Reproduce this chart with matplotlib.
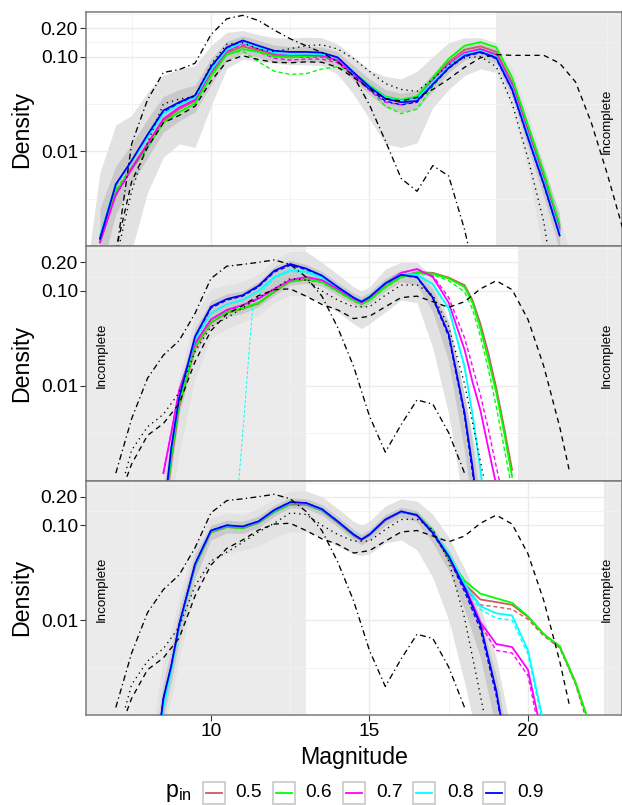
import numpy as np
import matplotlib
matplotlib.use("Agg")
import matplotlib.pyplot as plt
from matplotlib.patches import Rectangle
from matplotlib.lines import Line2D
from matplotlib.ticker import NullFormatter

plt.rcParams['font.family'] = ['Liberation Sans', 'DejaVu Sans']
plt.rcParams['mathtext.fontset'] = 'custom'
plt.rcParams['mathtext.rm'] = 'Liberation Sans'
plt.rcParams['mathtext.it'] = 'Liberation Sans'

nan = np.nan

# ---------------- data ----------------
PIN_LEVELS = ['0.5', '0.6', '0.7', '0.8', '0.9']
PIN_COLORS = ['#CD5C5C', '#00FF00', '#FF00FF', '#00FFFF', '#0000FF']
X_TICKS = [10, 15, 20]
Y_TICKS = [0.01, 0.10, 0.20]
Y_TICK_LABELS = ['0.01', '0.10', '0.20']

# Panel 1
P1_MAG = [6.5, 7.0, 7.5, 8.0, 8.5, 9.0, 9.5, 10.0, 10.5, 11.0, 11.5, 12.0, 12.5, 13.0, 13.5,
          14.0, 14.5, 15.0, 15.5, 16.0, 16.5, 17.0, 17.5, 18.0, 18.5, 19.0, 19.5, 20.0, 20.5, 21.0]
P1_RED = [0.0011, 0.0036, 0.0068, 0.012, 0.021, 0.028, 0.034, 0.066, 0.11, 0.128, 0.117, 0.104, 0.1, 0.102, 0.102,
          0.093, 0.067, 0.049, 0.037, 0.034, 0.037, 0.057, 0.088, 0.118, 0.128, 0.112, 0.053, 0.017, 0.0055, 0.0016]
P1_GREEN = [0.0011, 0.0038, 0.0065, 0.011, 0.02, 0.026, 0.032, 0.062, 0.105, 0.12, 0.112, 0.1, 0.098, 0.1, 0.1,
            0.092, 0.068, 0.05, 0.038, 0.035, 0.038, 0.06, 0.095, 0.13, 0.142, 0.125, 0.06, 0.019, 0.006, 0.0017]
P1_MAGENTA = [0.0011, 0.0035, 0.0065, 0.012, 0.022, 0.029, 0.035, 0.07, 0.115, 0.138, 0.122, 0.108, 0.104, 0.104, 0.102,
              0.092, 0.066, 0.048, 0.036, 0.034, 0.036, 0.055, 0.083, 0.11, 0.12, 0.105, 0.05, 0.016, 0.005, 0.0015]
P1_CYAN = [0.0013, 0.0045, 0.0078, 0.014, 0.025, 0.031, 0.037, 0.072, 0.118, 0.14, 0.125, 0.11, 0.106, 0.107, 0.106,
           0.096, 0.068, 0.049, 0.037, 0.034, 0.036, 0.054, 0.08, 0.106, 0.115, 0.1, 0.047, 0.015, 0.0048, 0.0014]
P1_BLUE = [0.0012, 0.0045, 0.008, 0.015, 0.027, 0.033, 0.039, 0.078, 0.125, 0.148, 0.13, 0.115, 0.112, 0.112, 0.11,
           0.098, 0.068, 0.048, 0.036, 0.033, 0.034, 0.051, 0.076, 0.102, 0.112, 0.097, 0.045, 0.014, 0.0045, 0.0013]
P1_GREEN_DASH = [nan, 0.004, 0.0068, 0.012, 0.021, 0.026, 0.032, 0.062, 0.105, 0.115, 0.088, 0.07, 0.065, 0.066, 0.074,
                 0.078, 0.065, 0.045, 0.03, 0.025, 0.028, 0.048, 0.08, 0.108, 0.12, 0.105, 0.05, 0.016, 0.005, 0.0015]
P1_MAGENTA_DASH = [nan, 0.0034, 0.0066, 0.012, 0.022, 0.029, 0.035, 0.069, 0.112, 0.132, 0.112, 0.096, 0.092, 0.094, 0.094,
                   0.086, 0.062, 0.044, 0.033, 0.031, 0.034, 0.053, 0.082, 0.11, 0.118, 0.102, 0.048, 0.015, 0.0048, 0.0014]
P1_BLUE_DASH = [0.0012, 0.0044, 0.0078, 0.0145, 0.026, 0.032, 0.038, 0.075, 0.12, 0.142, 0.12, 0.102, 0.098, 0.099, 0.099,
                0.09, 0.064, 0.045, 0.034, 0.031, 0.033, 0.05, 0.075, 0.1, 0.11, 0.095, 0.044, 0.0138, 0.0044, 0.0013]
P1_CORE_HI = [0.0025, 0.007, 0.012, 0.022, 0.038, 0.045, 0.05, 0.095, 0.145, 0.165, 0.148, 0.132, 0.128, 0.128, 0.126,
              0.112, 0.08, 0.058, 0.045, 0.041, 0.044, 0.066, 0.098, 0.128, 0.138, 0.122, 0.06, 0.02, 0.0068, 0.0022]
P1_CORE_LO = [0.0005, 0.0022, 0.0045, 0.0085, 0.016, 0.021, 0.026, 0.05, 0.09, 0.108, 0.098, 0.088, 0.086, 0.088, 0.088,
              0.08, 0.056, 0.04, 0.029, 0.026, 0.028, 0.043, 0.068, 0.092, 0.1, 0.085, 0.037, 0.011, 0.0033, 0.0009]
P1_GREY_MAG = [6.2, 6.5, 7.0, 7.5, 8.0, 8.5, 9.0, 9.5, 10.0, 10.5, 11.0, 11.5, 12.0, 12.5, 13.0, 13.5,
               14.0, 14.5, 15.0, 15.5, 16.0, 16.5, 17.0, 17.5, 18.0, 18.5, 19.0, 19.5, 20.0, 20.5, 21.0, 21.25]
P1_GREY_HI = [0.0011, 0.006, 0.019, 0.024, 0.042, 0.064, 0.074, 0.08, 0.13, 0.18, 0.188, 0.17, 0.158, 0.156, 0.16, 0.158,
              0.135, 0.1, 0.072, 0.062, 0.058, 0.07, 0.1, 0.14, 0.158, 0.158, 0.14, 0.075, 0.025, 0.0075, 0.002, 0.00105]
P1_GREY_LO = [0.0002, 0.0002, 0.0003, 0.0009, 0.0037, 0.0087, 0.012, 0.011, 0.03, 0.075, 0.094, 0.088, 0.085, 0.082, 0.082, 0.08,
              0.065, 0.04, 0.022, 0.012, 0.011, 0.0123, 0.029, 0.045, 0.063, 0.074, 0.068, 0.029, 0.0065, 0.0008, 0.0002, 0.0002]
P1_REF_DASH_MAG = [7.0, 7.5, 8.0, 8.5, 9.0, 9.5, 10.0, 10.5, 11.0, 11.5, 12.0, 12.5, 13.0, 13.5, 14.0, 14.5, 15.0,
                   15.5, 16.0, 16.5, 17.0, 17.5, 18.0, 18.5, 19.0, 19.5, 20.0, 20.5, 21.0, 21.5, 22.0, 22.5, 23.0]
P1_REF_DASH = [0.0009, 0.0048, 0.011, 0.02, 0.024, 0.03, 0.055, 0.089, 0.102, 0.093, 0.087, 0.086, 0.088, 0.087, 0.077, 0.06, 0.046,
               0.036, 0.034, 0.037, 0.045, 0.058, 0.077, 0.097, 0.105, 0.103, 0.103, 0.103, 0.085, 0.054, 0.02, 0.0058, 0.0015]
P1_REF_DOT_MAG = [7.1, 7.5, 8.0, 8.5, 9.0, 9.5, 10.0, 10.5, 11.0, 11.5, 12.0, 12.5, 13.0, 13.5, 14.0,
                  14.5, 15.0, 15.5, 16.0, 16.5, 17.0, 17.5, 18.0, 18.5, 19.0, 19.5, 20.0, 20.5, 20.6]
P1_REF_DOT = [0.001, 0.0038, 0.0123, 0.0317, 0.0356, 0.038, 0.082, 0.135, 0.14, 0.12, 0.113, 0.121, 0.13, 0.133, 0.12,
              0.095, 0.07, 0.052, 0.045, 0.043, 0.058, 0.082, 0.097, 0.1, 0.078, 0.032, 0.0085, 0.0018, 0.0011]
P1_REF_DASHDOT_MAG = [7.0, 7.5, 8.0, 8.5, 9.0, 9.5, 10.0, 10.5, 11.0, 11.5, 12.0, 12.5, 13.0, 13.5, 14.0,
                      14.5, 15.0, 15.5, 16.0, 16.5, 17.0, 17.5, 18.0, 18.15]
P1_REF_DASHDOT = [0.0008, 0.012, 0.035, 0.068, 0.073, 0.085, 0.17, 0.25, 0.272, 0.24, 0.19, 0.154, 0.13, 0.11, 0.088,
                  0.062, 0.031, 0.013, 0.0052, 0.0038, 0.0071, 0.0055, 0.0015, 0.0009]

# Panel 2
P2_MAG = [8.5, 8.75, 9.0, 9.5, 10.0, 10.5, 11.0, 11.5, 12.0, 12.5, 13.0, 13.5, 14.0, 14.5, 14.75,
          15.0, 15.5, 16.0, 16.5, 17.0, 17.5, 18.0, 18.25, 18.5, 18.75, 19.0, 19.25, 19.5]
P2_RED = [0.0003, 0.0016, 0.006, 0.025, 0.046, 0.059, 0.065, 0.074, 0.098, 0.126, 0.132, 0.125, 0.1, 0.08, 0.073,
          0.081, 0.112, 0.142, 0.157, 0.155, 0.138, 0.115, 0.08, 0.045, 0.022, 0.0095, 0.0036, 0.0013]
P2_GREEN = [0.0003, 0.0018, 0.0065, 0.026, 0.047, 0.06, 0.066, 0.075, 0.1, 0.128, 0.133, 0.125, 0.1, 0.08, 0.073,
            0.08, 0.11, 0.14, 0.155, 0.152, 0.135, 0.11, 0.075, 0.04, 0.019, 0.0085, 0.0032, 0.0011]
P2_MAGENTA = [0.0012, 0.0032, 0.009, 0.028, 0.05, 0.063, 0.071, 0.083, 0.105, 0.13, 0.14, 0.13, 0.105, 0.083, 0.076,
              0.085, 0.12, 0.155, 0.17, 0.14, 0.075, 0.024, 0.011, 0.0055, 0.0022, 0.0009, nan, nan]
P2_CYAN = [0.0004, 0.0022, 0.0075, 0.031, 0.058, 0.072, 0.08, 0.1, 0.14, 0.165, 0.16, 0.14, 0.11, 0.085, 0.078,
           0.087, 0.12, 0.15, 0.148, 0.118, 0.066, 0.016, 0.005, 0.0013, 0.0003, nan, nan, nan]
P2_BLUE = [0.0004, 0.0022, 0.0075, 0.033, 0.068, 0.082, 0.09, 0.113, 0.163, 0.192, 0.172, 0.145, 0.11, 0.085, 0.077,
           0.086, 0.12, 0.148, 0.14, 0.085, 0.035, 0.0052, 0.0014, 0.0003, nan, nan, nan, nan]
P2_GREEN_DASH = [0.0003, 0.0018, 0.0065, 0.026, 0.046, 0.058, 0.064, 0.073, 0.097, 0.124, 0.13, 0.122, 0.098, 0.078, 0.072,
                 0.079, 0.108, 0.138, 0.152, 0.148, 0.128, 0.098, 0.064, 0.033, 0.015, 0.006, 0.0022, 0.0008]
P2_MAGENTA_DASH = [0.0012, 0.0032, 0.009, 0.028, 0.05, 0.062, 0.07, 0.082, 0.104, 0.128, 0.138, 0.128, 0.104, 0.082, 0.075,
                   0.085, 0.12, 0.155, 0.17, 0.145, 0.085, 0.032, 0.016, 0.008, 0.0035, 0.0014, 0.0006, nan]
P2_BLUE_DASH = [0.0004, 0.0022, 0.0075, 0.032, 0.066, 0.08, 0.088, 0.11, 0.158, 0.186, 0.168, 0.142, 0.108, 0.084, 0.076,
                0.085, 0.118, 0.146, 0.138, 0.083, 0.033, 0.0048, 0.0012, 0.0003, nan, nan, nan, nan]
P2_CYAN_DASH_MAG = [10.88, 11.07, 11.23, 11.32, 11.5, 12.0, 12.5, 13.0, 13.5, 14.0, 14.5, 14.75, 15.0, 15.5,
                    16.0, 16.5, 17.0, 17.5, 18.0, 18.25, 18.5, 18.6]
P2_CYAN_DASH = [0.001, 0.006, 0.03, 0.065, 0.092, 0.135, 0.16, 0.155, 0.135, 0.107, 0.083, 0.076, 0.085, 0.118,
                0.148, 0.146, 0.115, 0.063, 0.015, 0.005, 0.0013, 0.0008]
P2_CORE_HI = [0.0008, 0.003, 0.01, 0.04, 0.078, 0.093, 0.1, 0.125, 0.18, 0.21, 0.19, 0.16, 0.122, 0.095, 0.087,
              0.097, 0.135, 0.165, 0.16, 0.105, 0.045, 0.008, 0.0025, 0.0006, nan, nan, nan, nan]
P2_CORE_LO = [0.0003, 0.0013, 0.005, 0.022, 0.042, 0.053, 0.058, 0.068, 0.09, 0.115, 0.12, 0.112, 0.09, 0.072, 0.066,
              0.073, 0.1, 0.125, 0.115, 0.06, 0.018, 0.002, 0.0005, 0.0002, nan, nan, nan, nan]
P2_GREY_HI = [0.0013, 0.004, 0.012, 0.055, 0.105, 0.115, 0.125, 0.15, 0.21, 0.26, 0.26, 0.2, 0.15, 0.11, 0.1,
              0.11, 0.17, 0.2, 0.2, 0.14, 0.048, 0.0075, 0.003, 0.0011, 0.0004, nan, nan, nan]
P2_GREY_LO = [0.0002, 0.0006, 0.002, 0.012, 0.032, 0.04, 0.047, 0.055, 0.075, 0.09, 0.088, 0.075, 0.06, 0.045, 0.04,
              0.045, 0.06, 0.08, 0.075, 0.025, 0.005, 0.0005, 0.0002, 0.0002, 0.0002, nan, nan, nan]

# Reference curves shared by panels 2 and 3
REF_DASH_MAG = [7.35, 7.5, 8.0, 8.5, 9.0, 9.5, 10.0, 10.5, 11.0, 11.5, 12.0, 12.5, 13.0, 13.5, 14.0,
                14.5, 15.0, 15.5, 16.0, 16.5, 17.0, 17.5, 18.0, 18.5, 19.0, 19.5, 20.0, 20.5, 21.0, 21.3]
REF_DASH = [0.0011, 0.0015, 0.003, 0.004, 0.0065, 0.018, 0.038, 0.057, 0.07, 0.089, 0.103, 0.105, 0.088, 0.072, 0.063,
            0.051, 0.054, 0.068, 0.085, 0.088, 0.077, 0.067, 0.077, 0.105, 0.128, 0.103, 0.05, 0.016, 0.0037, 0.0013]
REF_DOT_MAG = [7.3, 7.5, 8.0, 8.5, 9.0, 9.5, 10.0, 10.5, 11.0, 11.5, 12.0, 12.5, 13.0, 13.5, 14.0,
               14.5, 15.0, 15.5, 16.0, 16.5, 17.0, 17.5, 18.0, 18.5, 18.6]
REF_DOT = [0.0012, 0.0021, 0.0037, 0.005, 0.0085, 0.023, 0.042, 0.052, 0.066, 0.085, 0.105, 0.135, 0.13, 0.1, 0.08,
           0.068, 0.068, 0.09, 0.115, 0.116, 0.09, 0.042, 0.0105, 0.0016, 0.0011]
REF_DASHDOT_MAG = [7.0, 7.5, 8.0, 8.5, 9.0, 9.5, 10.0, 10.5, 11.0, 11.5, 12.0, 12.5, 13.0, 13.5, 14.0,
                   14.5, 15.0, 15.5, 16.0, 16.5, 17.0, 17.5, 18.0]
REF_DASHDOT = [0.0012, 0.0045, 0.012, 0.021, 0.03, 0.058, 0.135, 0.182, 0.19, 0.2, 0.212, 0.19, 0.14, 0.088, 0.041,
               0.016, 0.0048, 0.002, 0.0039, 0.0071, 0.0064, 0.0032, 0.0012]

# Panel 3
P3_MAG = [8.25, 8.5, 8.75, 9.0, 9.5, 10.0, 10.5, 11.0, 11.5, 12.0, 12.5, 13.0, 13.5, 14.0, 14.5, 14.75,
          15.0, 15.5, 16.0, 16.5, 17.0, 17.5, 18.0, 18.5, 19.0, 19.5, 20.0, 20.5, 21.0, 21.5, 22.0]
P3_RED = [0.0003, 0.0014, 0.0032, 0.0088, 0.037, 0.084, 0.096, 0.093, 0.106, 0.138, 0.166, 0.165, 0.143, 0.107, 0.078, 0.07,
          0.079, 0.113, 0.138, 0.129, 0.087, 0.044, 0.024, 0.0165, 0.0155, 0.0145, 0.0108, 0.0071, 0.0053, 0.0022, 0.0007]
P3_GREEN = [0.0003, 0.0014, 0.0032, 0.0088, 0.037, 0.084, 0.096, 0.093, 0.106, 0.138, 0.166, 0.165, 0.143, 0.107, 0.078, 0.07,
            0.079, 0.113, 0.138, 0.13, 0.088, 0.045, 0.026, 0.019, 0.017, 0.0152, 0.011, 0.0071, 0.0053, 0.0022, 0.0007]
P3_MAGENTA = [0.0003, 0.0014, 0.0032, 0.0088, 0.038, 0.086, 0.098, 0.095, 0.108, 0.142, 0.17, 0.168, 0.145, 0.108, 0.079, 0.07,
              0.079, 0.113, 0.138, 0.127, 0.084, 0.048, 0.023, 0.0095, 0.0056, 0.0052, 0.003, 0.0005, nan, nan, nan]
P3_CYAN = [0.0002, 0.0012, 0.003, 0.0085, 0.038, 0.087, 0.099, 0.096, 0.109, 0.143, 0.172, 0.17, 0.146, 0.109, 0.08, 0.071,
           0.08, 0.114, 0.139, 0.128, 0.085, 0.05, 0.024, 0.014, 0.0118, 0.0112, 0.0048, 0.0008, nan, nan, nan]
P3_BLUE = [0.0003, 0.0015, 0.0033, 0.009, 0.039, 0.088, 0.1, 0.097, 0.11, 0.145, 0.175, 0.172, 0.148, 0.11, 0.08, 0.071,
           0.08, 0.115, 0.14, 0.128, 0.083, 0.047, 0.022, 0.0089, 0.0018, 0.0002, nan, nan, nan, nan, nan]
P3_RED_DASH = [0.0003, 0.0014, 0.0032, 0.0088, 0.037, 0.084, 0.096, 0.093, 0.106, 0.138, 0.166, 0.165, 0.143, 0.107, 0.078, 0.07,
               0.079, 0.113, 0.138, 0.129, 0.086, 0.043, 0.022, 0.0145, 0.0138, 0.013, 0.0102, 0.0068, 0.0051, 0.0021, 0.0006]
P3_MAGENTA_DASH = [0.0003, 0.0014, 0.0032, 0.0088, 0.038, 0.086, 0.098, 0.095, 0.108, 0.142, 0.17, 0.168, 0.145, 0.108, 0.079, 0.07,
                   0.079, 0.113, 0.138, 0.126, 0.082, 0.046, 0.021, 0.009, 0.0048, 0.0045, 0.0026, 0.0004, nan, nan, nan]
P3_CYAN_DASH = [0.0002, 0.0012, 0.003, 0.0085, 0.038, 0.087, 0.099, 0.096, 0.109, 0.143, 0.172, 0.17, 0.146, 0.109, 0.08, 0.071,
                0.08, 0.114, 0.139, 0.127, 0.084, 0.049, 0.023, 0.013, 0.0105, 0.01, 0.0044, 0.0007, nan, nan, nan]
P3_BLUE_DASH = [0.0003, 0.0015, 0.0033, 0.009, 0.039, 0.088, 0.1, 0.097, 0.11, 0.145, 0.175, 0.172, 0.148, 0.11, 0.08, 0.071,
                0.08, 0.115, 0.14, 0.127, 0.081, 0.045, 0.02, 0.008, 0.0016, 0.0002, nan, nan, nan, nan, nan]
P3_CORE_HI = [0.0006, 0.0022, 0.005, 0.013, 0.05, 0.1, 0.113, 0.11, 0.125, 0.163, 0.195, 0.19, 0.165, 0.123, 0.09, 0.08,
              0.09, 0.13, 0.155, 0.142, 0.095, 0.055, 0.026, 0.0105, 0.0026, 0.0003, nan, nan, nan, nan, nan]
P3_CORE_LO = [0.0002, 0.0009, 0.0022, 0.006, 0.028, 0.07, 0.083, 0.082, 0.094, 0.125, 0.152, 0.15, 0.128, 0.096, 0.07, 0.062,
              0.07, 0.1, 0.122, 0.108, 0.065, 0.033, 0.013, 0.004, 0.0007, 0.0002, nan, nan, nan, nan, nan]
P3_GREY_HI = [0.0011, 0.004, 0.008, 0.018, 0.065, 0.12, 0.135, 0.13, 0.15, 0.19, 0.23, 0.23, 0.2, 0.15, 0.11, 0.1,
              0.11, 0.16, 0.19, 0.18, 0.13, 0.075, 0.035, 0.014, 0.004, 0.0006, nan, nan, nan, nan, nan]
P3_GREY_LO = [0.0002, 0.0007, 0.0015, 0.004, 0.02, 0.04, 0.05, 0.055, 0.06, 0.075, 0.085, 0.085, 0.075, 0.06, 0.05, 0.048,
              0.05, 0.065, 0.07, 0.055, 0.028, 0.01, 0.0022, 0.0004, 0.0002, 0.0002, nan, nan, nan, nan, nan]

INCOMPLETE_SPANS = [[(19.0, 24.0)], [(5.0, 13.0), (19.7, 24.0)], [(5.0, 13.0), (22.4, 24.0)]]
INCOMPLETE_LABEL_X = [[22.5], [6.55, 22.5], [6.55, 22.5]]
INCOMPLETE_LABEL_Y = 0.021

# ---------------- assemble panels ----------------
panels = [
    dict(mag=P1_MAG,
         solid=[P1_RED, P1_GREEN, P1_MAGENTA, P1_CYAN, P1_BLUE],
         dashed=[(P1_MAG, P1_GREEN_DASH, 1), (P1_MAG, P1_MAGENTA_DASH, 2), (P1_MAG, P1_BLUE_DASH, 4)],
         core=(P1_MAG, P1_CORE_LO, P1_CORE_HI), grey=(P1_GREY_MAG, P1_GREY_LO, P1_GREY_HI),
         ref=[(P1_REF_DASH_MAG, P1_REF_DASH), (P1_REF_DOT_MAG, P1_REF_DOT), (P1_REF_DASHDOT_MAG, P1_REF_DASHDOT)]),
    dict(mag=P2_MAG,
         solid=[P2_RED, P2_GREEN, P2_MAGENTA, P2_CYAN, P2_BLUE],
         dashed=[(P2_MAG, P2_GREEN_DASH, 1), (P2_MAG, P2_MAGENTA_DASH, 2), (P2_MAG, P2_BLUE_DASH, 4),
                 (P2_CYAN_DASH_MAG, P2_CYAN_DASH, 3)],
         core=(P2_MAG, P2_CORE_LO, P2_CORE_HI), grey=(P2_MAG, P2_GREY_LO, P2_GREY_HI),
         ref=[(REF_DASH_MAG, REF_DASH), (REF_DOT_MAG, REF_DOT), (REF_DASHDOT_MAG, REF_DASHDOT)]),
    dict(mag=P3_MAG,
         solid=[P3_RED, P3_GREEN, P3_MAGENTA, P3_CYAN, P3_BLUE],
         dashed=[(P3_MAG, P3_RED_DASH, 0), (P3_MAG, P3_MAGENTA_DASH, 2), (P3_MAG, P3_CYAN_DASH, 3),
                 (P3_MAG, P3_BLUE_DASH, 4)],
         core=(P3_MAG, P3_CORE_LO, P3_CORE_HI), grey=(P3_MAG, P3_GREY_LO, P3_GREY_HI),
         ref=[(REF_DASH_MAG, REF_DASH), (REF_DOT_MAG, REF_DOT), (REF_DASHDOT_MAG, REF_DASHDOT)]),
]

# ---------------- figure ----------------
W, H = 622, 805
fig = plt.figure(figsize=(W / 100, H / 100), dpi=100)
fig.patch.set_facecolor('white')

left_px, right_px = 86, 621.5
edges = [12, 246.3, 480.7, 715]
XLIM = (6.06, 22.95)
YLIM = (0.001, 0.295)
TICK_FS = 13.8
TITLE_FS = 16.7
REF_STYLES = [dict(dashes=(4, 3.2)), dict(dashes=(1, 3.0)), dict(dashes=(4.5, 2.5, 1, 2.5))]

axes = []
for i, pan in enumerate(panels):
    top, bot = edges[i], edges[i + 1]
    ax = fig.add_axes([left_px / W, 1 - bot / H, (right_px - left_px) / W, (bot - top) / H])
    axes.append(ax)
    ax.set_yscale('log')
    ax.set_xlim(*XLIM)
    ax.set_ylim(*YLIM)
    ax.set_axisbelow(True)

    # grid
    ax.set_xticks(X_TICKS)
    ax.set_xticks([7.5, 12.5, 17.5, 22.5], minor=True)
    ax.set_yticks(Y_TICKS)
    ax.set_yticklabels(Y_TICK_LABELS)
    ax.set_yticks([10 ** -2.5, 10 ** -1.5, 10 ** -0.849, 10 ** -0.5495], minor=True)
    ax.yaxis.set_minor_formatter(NullFormatter())
    ax.grid(which='major', color='#ebebeb', lw=1.0)
    ax.grid(which='minor', color='#f1f1f1', lw=0.6)
    ax.tick_params(which='minor', length=0)
    ax.tick_params(axis='y', which='major', length=4.3, width=0.8, color='#333333',
                   labelsize=TICK_FS, pad=1.5, labelcolor='black')
    if i < 2:
        ax.tick_params(axis='x', which='major', bottom=False, labelbottom=False)
    else:
        ax.tick_params(axis='x', which='major', length=4.3, width=0.8, color='#333333',
                       labelsize=TICK_FS, pad=1.5, labelcolor='black')
    for sp in ax.spines.values():
        sp.set_color('#7a7a7a')
        sp.set_linewidth(1.1)

    # shaded incomplete regions
    for (a, b) in INCOMPLETE_SPANS[i]:
        ax.axvspan(a, b, color='black', alpha=0.08, lw=0, zorder=0.5)
    for xl in INCOMPLETE_LABEL_X[i]:
        ax.text(xl, INCOMPLETE_LABEL_Y, 'Incomplete', rotation=90, ha='center', va='center',
                fontsize=9.6, color='black', zorder=6)

    # grey bootstrap band
    gx, glo, ghi = pan['grey']
    ax.fill_between(gx, glo, ghi, color='#e2e2e2', lw=0, zorder=1)
    cx, clo, chi = pan['core']
    ax.fill_between(cx, clo, chi, color='#c9c9c9', lw=0, zorder=1.2)

    # coloured dashed
    for (mx, vals, ci) in pan['dashed']:
        lw = 0.7 if ci == 3 and i == 1 else 1.0
        ax.plot(mx, vals, color=PIN_COLORS[ci], lw=lw, dashes=(3, 2), zorder=2)
    # coloured solid
    for ci, vals in enumerate(pan['solid']):
        ax.plot(pan['mag'], vals, color=PIN_COLORS[ci], lw=1.3, zorder=3)
    # black reference curves
    for (mx, vals), st in zip(pan['ref'], REF_STYLES):
        ax.plot(mx, vals, color='black', lw=0.95, zorder=4, **st)

    # y title
    fig.text(22 / W, 1 - ((top + bot) / 2) / H, 'Density', rotation=90, ha='center', va='center',
             fontsize=TITLE_FS)

# x title
fig.text(354 / W, 1 - 757 / H, 'Magnitude', ha='center', va='center', fontsize=TITLE_FS)

# legend (drawn in figure pixels)
leg_y = 792.5
fig.text(165 / W, 1 - leg_y / H, r'$\mathrm{p_{in}}$', ha='left', va='center', fontsize=TITLE_FS)
key_x = [203, 273, 343, 413.3, 483.3]
lab_x = [235, 305, 376, 447, 517]
ks = 22
for kx, lx, col, lab in zip(key_x, lab_x, PIN_COLORS, PIN_LEVELS):
    r = Rectangle((kx / W, 1 - (leg_y + ks / 2) / H), ks / W, ks / H, transform=fig.transFigure,
                  facecolor='white', edgecolor='#c8c8c8', lw=1.2)
    fig.add_artist(r)
    ln = Line2D([(kx + 3) / W, (kx + ks - 3) / W], [1 - leg_y / H, 1 - leg_y / H],
                transform=fig.transFigure, color=col, lw=1.3)
    fig.add_artist(ln)
    fig.text(lx / W, 1 - leg_y / H, lab, ha='left', va='center', fontsize=TICK_FS)

fig.savefig('out.png', dpi=100)
